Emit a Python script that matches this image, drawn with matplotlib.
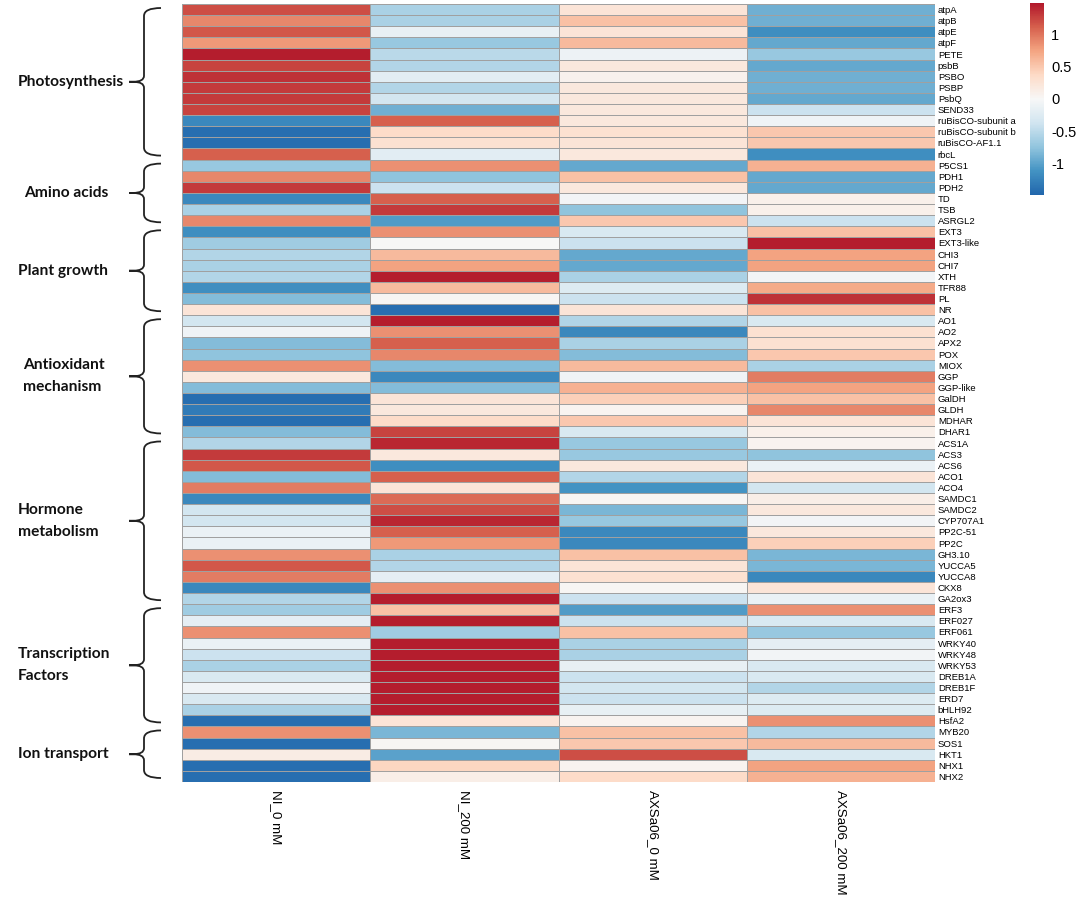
import numpy as np
import matplotlib
matplotlib.use("Agg")
from matplotlib import pyplot as plt
from matplotlib.colors import LinearSegmentedColormap
from matplotlib.path import Path
from matplotlib.patches import PathPatch

# conditions (columns) and genes (rows)
conditions = ["NI_0 mM", "NI_200 mM", "AXSa06_0 mM", "AXSa06_200 mM"]

genes = ["atpA", "atpB", "atpE", "atpF", "PETE", "psbB", "PSBO", "PSBP", "PsbQ", "SEND33",
         "ruBisCO-subunit a", "ruBisCO-subunit b", "ruBisCO-AF1.1", "rbcL",
         "P5CS1", "PDH1", "PDH2", "TD", "TSB", "ASRGL2",
         "EXT3", "EXT3-like", "CHI3", "CHI7", "XTH", "TFR88", "PL", "NR",
         "AO1", "AO2", "APX2", "POX", "MIOX", "GGP", "GGP-like", "GalDH", "GLDH", "MDHAR", "DHAR1",
         "ACS1A", "ACS3", "ACS6", "ACO1", "ACO4", "SAMDC1", "SAMDC2", "CYP707A1", "PP2C-51", "PP2C",
         "GH3.10", "YUCCA5", "YUCCA8", "CKX8", "GA2ox3",
         "ERF3", "ERF027", "ERF061", "WRKY40", "WRKY48", "WRKY53", "DREB1A", "DREB1F", "ERD7",
         "bHLH92", "HsfA2",
         "MYB20", "SOS1", "HKT1", "NHX1", "NHX2"]

group_names = ["Photosynthesis", "Amino acids", "Plant growth", "Antioxidant\nmechanism",
               "Hormone\nmetabolism", "Transcription\nFactors", "Ion transport"]
group_sizes = [14, 6, 8, 11, 15, 11, 5]

# scaled expression
ni_0 = [1.2, 0.9, 1.15, 0.8, 1.45, 1.25, 1.35, 1.3, 1.3, 1.25,
        -1.2, -1.4, -1.4, 1.1,
        -0.7, 0.9, 1.3, -1.2, -0.6, 0.9,
        -1.15, -0.65, -0.55, -0.6, -0.55, -1.15, -0.8, 0.25,
        -0.35, -0.08, -0.8, -0.75, 0.85, 0.2, -0.8, -1.4, -1.3, -1.4, -0.8,
        -0.55, 1.3, 1.15, -0.8, 0.95, -1.2, -0.35, -0.35, -0.12, -0.12,
        0.85, 1.15, 0.95, -1.2, -0.55,
        -0.65, -0.18, 0.85, -0.12, -0.4, -0.6, -0.3, -0.08, -0.3, -0.6, -1.4,
        0.85, -1.4, 0.15, -1.4, -1.4]
ni_200 = [-0.6, -0.6, -0.15, -0.7, -0.5, -0.55, -0.2, -0.55, -0.35, -0.9,
          1.1, 0.35, 0.3, -0.2,
          0.85, -0.75, -0.4, 1.1, 1.3, -1.05,
          0.85, 0.0, 0.6, 0.75, 1.45, 0.6, 0.03, -1.4,
          1.45, 0.85, 1.1, 0.9, -0.8, -1.2, -0.8, 0.25, 0.2, 0.35, 1.25,
          1.4, 0.2, -1.15, 1.1, 0.25, 1.05, 1.2, 1.4, 1.1, 0.8,
          -0.6, -0.55, -0.18, 0.85, 1.45,
          0.55, 1.45, -0.65, 1.45, 1.45, 1.45, 1.45, 1.45, 1.45, 1.45, 0.25,
          -0.85, 0.03, -1.0, 0.4, 0.12]
axsa_0 = [0.25, 0.55, 0.25, 0.6, -0.1, 0.2, 0.08, 0.2, 0.2, 0.2,
          0.2, 0.3, 0.25, 0.2,
          -0.95, 0.55, 0.2, -0.05, -0.75, 0.5,
          -0.3, -0.4, -0.95, -0.95, -0.6, -0.25, -0.4, 0.25,
          -0.55, -1.2, -0.6, -0.8, 0.6, -0.08, 0.65, 0.45, 0.05, 0.5, -0.3,
          -0.7, -0.7, 0.2, -0.55, -1.1, 0.03, -0.85, -0.7, -1.2, -1.2,
          0.55, 0.25, 0.3, 0.03, -0.4,
          -1.05, -0.4, 0.55, -0.6, -0.6, -0.15, -0.4, -0.35, -0.4, -0.15, 0.05,
          0.55, 0.5, 1.2, 0.05, 0.35]
axsa_200 = [-0.9, -0.9, -1.15, -0.95, -0.7, -0.95, -0.9, -0.9, -0.95, -0.4,
            -0.08, 0.5, 0.5, -1.15,
            0.65, -0.95, -0.95, 0.1, 0.1, -0.4,
            0.55, 1.45, 0.75, 0.75, -0.05, 0.7, 1.35, 0.55,
            -0.3, 0.3, 0.3, 0.5, -0.6, 0.95, 0.75, 0.55, 0.9, 0.25, 0.1,
            0.05, -0.75, -0.12, 0.25, -0.35, 0.12, 0.2, -0.05, 0.2, 0.45,
            -0.85, -0.85, -1.2, 0.25, -0.12,
            0.85, -0.3, -0.7, -0.18, -0.05, -0.3, -0.3, -0.55, -0.25, -0.25, 0.85,
            -0.55, 0.6, -0.3, 0.75, 0.65]

values = np.column_stack([ni_0, ni_200, axsa_0, axsa_200])

# RdBu (9 class) reversed, like pheatmap
cmap = LinearSegmentedColormap.from_list(
    "rdbu9", ["#2166AC", "#4393C3", "#92C5DE", "#D1E5F0", "#F7F7F7",
              "#FDDBC7", "#F4A582", "#D6604D", "#B2182B"])
vlim = 1.48

W, H = 1084, 898
fig = plt.figure(figsize=(W / 100, H / 100), dpi=100)

# heatmap placed by pixel box
hm_left, hm_right, hm_top, hm_bottom = 182, 935, 4, 782
ax = fig.add_axes([hm_left / W, 1 - hm_bottom / H,
                   (hm_right - hm_left) / W, (hm_bottom - hm_top) / H])
n_rows, n_cols = values.shape
mesh = ax.pcolormesh(values, cmap=cmap, vmin=-vlim, vmax=vlim,
                     edgecolors="#a0a0a0", linewidth=0.45)
ax.set_xlim(0, n_cols)
ax.set_ylim(n_rows, 0)
for s in ax.spines.values():
    s.set_visible(False)

ax.yaxis.tick_right()
ax.set_yticks(np.arange(n_rows) + 0.5)
ax.set_yticklabels(genes, family=["Liberation Sans", "DejaVu Sans"], fontsize=6.8)
ax.set_xticks(np.arange(n_cols) + 0.5)
ax.set_xticklabels(conditions, rotation=270, ha="center", va="top",
                   family=["Liberation Sans", "DejaVu Sans"], fontsize=9.6)
ax.tick_params(length=0, pad=2)
ax.tick_params(axis="x", pad=6)

# colour key
cax = fig.add_axes([1030 / W, 1 - 195 / H, 14 / W, 192 / H])
cb = fig.colorbar(mesh, cax=cax, ticks=[-1, -0.5, 0, 0.5, 1])
cb.outline.set_visible(False)
cb.ax.set_yticklabels(["-1", "-0.5", "0", "0.5", "1"])
cb.ax.tick_params(length=0, labelsize=10.5, pad=5)
for t in cb.ax.get_yticklabels():
    t.set_family(["Liberation Sans", "DejaVu Sans"])

# overlay in pixel coordinates for the group braces
ov = fig.add_axes([0, 0, 1, 1])
ov.set_xlim(0, W)
ov.set_ylim(H, 0)
ov.axis("off")

row_h = (hm_bottom - hm_top) / n_rows
x_end, x_line, x_tip = 161, 144, 129
label_x = [18, 24, 18, 23, 18, 18, 18]
start = 0
for name, size, lx in zip(group_names, group_sizes, label_x):
    y0 = hm_top + start * row_h + 4
    y1 = hm_top + (start + size) * row_h - 4
    ym = (y0 + y1) / 2
    verts = [(x_end, y0), (x_line, y0), (x_line, y0 + 8),
             (x_line, ym - 6), (x_line, ym), (x_tip + 4, ym),
             (x_tip, ym), (x_tip + 4, ym),
             (x_line, ym), (x_line, ym + 6),
             (x_line, y1 - 8), (x_line, y1), (x_end, y1)]
    codes = [Path.MOVETO, Path.CURVE3, Path.CURVE3,
             Path.LINETO, Path.CURVE3, Path.CURVE3,
             Path.LINETO, Path.LINETO,
             Path.CURVE3, Path.CURVE3,
             Path.LINETO, Path.CURVE3, Path.CURVE3]
    ov.add_patch(PathPatch(Path(verts, codes), facecolor="none",
                           edgecolor="#222222", linewidth=1.3))
    ov.text(lx, ym, name, ha="left", va="center", fontsize=11.2,
            fontweight="bold", family=["Lato", "DejaVu Sans"],
            color="#111111", linespacing=1.75)
    start += size

fig.savefig("out.png", dpi=100)
